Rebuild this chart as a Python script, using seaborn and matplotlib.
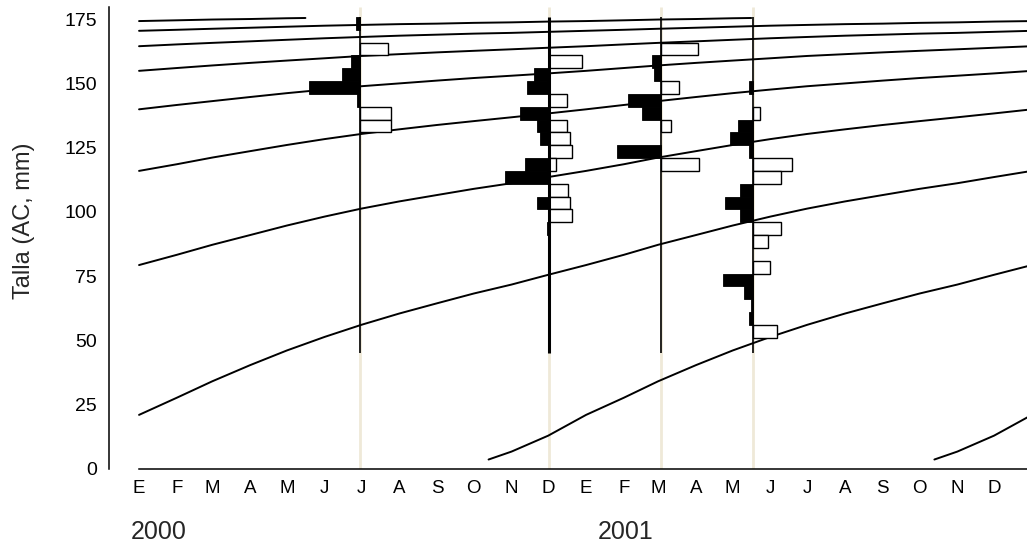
import numpy as np
import pandas as pd
import matplotlib
matplotlib.use("Agg")
import matplotlib.pyplot as plt
import seaborn as sns

# ---------------------------------------------------------------
# Growth trajectory (length at age), age in months from 1 January
# of the cohort's first full year
# ---------------------------------------------------------------
edad_reclut_meses = [-2.6, -2.0, -1.0]
talla_reclut_mm = [3.5, 6.6, 12.8]

# monthly lengths (Jan..Dec) for each age-year 0..6
talla_edad0 = [20.9, 27.6, 34.0, 40.3, 46.0, 51.3, 56.0, 60.4, 64.4, 68.2, 71.7, 75.5]
talla_edad1 = [79.3, 83.3, 87.2, 91.0, 94.7, 98.2, 101.3, 104.1, 106.6, 109.0, 111.2, 113.6]
talla_edad2 = [116.0, 118.6, 121.2, 123.7, 126.1, 128.4, 130.4, 132.2, 133.9, 135.4, 136.9, 138.4]
talla_edad3 = [140.0, 141.7, 143.2, 144.8, 146.3, 147.7, 149.0, 150.1, 151.2, 152.2, 153.1, 154.0]
talla_edad4 = [155.0, 156.1, 157.1, 158.1, 159.0, 159.9, 160.8, 161.5, 162.2, 162.8, 163.4, 164.0]
talla_edad5 = [164.6, 165.3, 165.9, 166.5, 167.1, 167.7, 168.2, 168.7, 169.1, 169.5, 169.8, 170.2]
talla_edad6 = [170.6, 171.0, 171.4, 171.8, 172.2, 172.6, 172.9, 173.2, 173.4, 173.7, 173.9, 174.2]
# last age-year, drawn until mid-May
talla_edad7 = [174.4, 174.7, 175.0, 175.2, 175.5, 175.6]
edad7_meses = [84, 85, 86, 87, 88, 88.5]

# cohorts (year in which each one starts age-year 0)
cohortes = [1993, 1994, 1995, 1996, 1997, 1998, 1999, 2000, 2001, 2002]

# ---------------------------------------------------------------
# Length-frequency samples: class mid-points (mm) and frequencies
# ---------------------------------------------------------------
fechas_muestreo = ["2000-06-30", "2000-12-02", "2001-03-03", "2001-05-18"]

m1_clase_negra = [173.5, 158.5, 153.5, 148.5, 143.5]
m1_frec_negra = [1.5, 3.1, 5.9, 17.0, 0.9]
m1_clase_blanca = [163.5, 138.5, 133.5]
m1_frec_blanca = [9.3, 10.2, 10.2]

m2_clase_negra = [153.5, 148.5, 138.5, 133.5, 128.5, 118.5, 113.5, 103.5, 93.5]
m2_frec_negra = [5.0, 7.4, 9.7, 4.2, 3.2, 8.3, 14.8, 4.1, 0.8]
m2_clase_blanca = [158.5, 143.5, 133.5, 128.5, 123.5, 118.5, 108.5, 103.5, 98.5]
m2_frec_blanca = [11.0, 6.0, 5.7, 7.0, 7.6, 2.3, 6.3, 6.7, 7.6]

m3_clase_negra = [158.5, 153.5, 143.5, 138.5, 123.5]
m3_frec_negra = [2.9, 2.3, 10.7, 6.2, 14.6]
m3_clase_blanca = [163.5, 148.5, 133.5, 118.5]
m3_frec_blanca = [12.4, 6.3, 3.6, 12.8]

m4_clase_negra = [148.5, 133.5, 128.5, 123.5, 108.5, 103.5, 98.5, 73.5, 68.5, 63.5, 58.5]
m4_frec_negra = [1.4, 5.1, 7.9, 1.4, 4.6, 9.6, 4.6, 10.1, 3.3, 0.9, 1.4]
m4_clase_blanca = [138.5, 118.5, 113.5, 93.5, 88.5, 78.5, 53.5]
m4_frec_blanca = [2.1, 13.0, 9.1, 9.1, 4.7, 5.6, 8.0]

muestras = [
    (m1_clase_negra, m1_frec_negra, m1_clase_blanca, m1_frec_blanca),
    (m2_clase_negra, m2_frec_negra, m2_clase_blanca, m2_frec_blanca),
    (m3_clase_negra, m3_frec_negra, m3_clase_blanca, m3_frec_blanca),
    (m4_clase_negra, m4_frec_negra, m4_clase_blanca, m4_frec_blanca),
]

meses_etiquetas = ["E", "F", "M", "A", "M", "J", "J", "A", "S", "O", "N", "D"] * 2
anios_etiquetas = ["2000", "2001"]

# ---------------------------------------------------------------
T0 = pd.Timestamp("2000-01-01")
X_MIN, X_MAX = -24.6, 727.0
ANCHO_CLASE = 5.0
DIAS_POR_UNIDAD = 2.456
TRANSECTA = (45.0, 176.0)


def dias_desde_t0(fecha):
    return (pd.Timestamp(fecha) - T0) / pd.Timedelta(days=1)


def fecha_edad(anio, meses):
    entero = int(np.floor(meses))
    frac = meses - entero
    return (pd.Timestamp(year=anio, month=1, day=1)
            + pd.DateOffset(months=entero)
            + pd.Timedelta(days=frac * 30.4375))


edad_meses = list(edad_reclut_meses)
talla_mm = list(talla_reclut_mm)
for k, fila in enumerate([talla_edad0, talla_edad1, talla_edad2, talla_edad3,
                          talla_edad4, talla_edad5, talla_edad6]):
    edad_meses += [12 * k + m for m in range(12)]
    talla_mm += fila
edad_meses += edad7_meses
talla_mm += talla_edad7

filas = []
for c in cohortes:
    for e, t in zip(edad_meses, talla_mm):
        x = dias_desde_t0(fecha_edad(c, e))
        if x >= -0.01:
            filas.append({"cohorte": c, "dia": x, "talla": t})
curvas = pd.DataFrame(filas)

# ---------------------------------------------------------------
sns.set_theme(style="white")
plt.rcParams["font.family"] = ["Liberation Sans", "DejaVu Sans"]

fig = plt.figure(figsize=(10.27, 5.51), dpi=100)
ax = fig.add_axes([109 / 1027, 82.5 / 551, 918 / 1027, 461.8 / 551])

dias_muestra = [dias_desde_t0(f) for f in fechas_muestreo]

# faint full-height guides at sampling dates
ax.vlines(dias_muestra, 0, 180, color="#efe9d8", lw=2.0, zorder=0)

sns.lineplot(data=curvas, x="dia", y="talla", units="cohorte", estimator=None,
             color="black", lw=1.4, ax=ax, legend=False, zorder=2)

for i, (dia, (cn, fn, cb, fb)) in enumerate(zip(dias_muestra, muestras)):
    ax.vlines(dia, *TRANSECTA, color="black", lw=2.2 if i == 1 else 1.2, zorder=4)
    ax.barh(cn, -np.array(fn) * DIAS_POR_UNIDAD, left=dia, height=ANCHO_CLASE,
            color="black", edgecolor="black", lw=0.6, zorder=3)
    ax.barh(cb, np.array(fb) * DIAS_POR_UNIDAD, left=dia, height=ANCHO_CLASE,
            color="white", edgecolor="black", lw=1.0, zorder=3)

ax.set_xlim(X_MIN, X_MAX)
ax.set_ylim(0, 180)

inicio_mes = pd.date_range("2000-01-01", "2001-12-01", freq="MS")
ax.set_xticks([dias_desde_t0(f) for f in inicio_mes])
ax.set_xticklabels(meses_etiquetas)
ax.set_yticks([0, 25, 50, 75, 100, 125, 150, 175])

for s in ["top", "right"]:
    ax.spines[s].set_visible(False)
for s in ["left", "bottom"]:
    ax.spines[s].set_color("black")
    ax.spines[s].set_linewidth(1.1)
ax.spines["bottom"].set_bounds(0, X_MAX)

ax.tick_params(axis="y", direction="in", length=6, width=1.1, color="black",
               pad=8.5, labelsize=14, labelcolor="black")
ax.tick_params(axis="x", direction="inout", length=7, width=1.1, color="black",
               pad=4.5, labelsize=13.5, labelcolor="black")
ax.set_xlabel("")
ax.set_ylabel("")
ax.grid(False)

fig.text(23.7 / 1027, 1 - 220.5 / 551, "Talla (AC, mm)", rotation=90,
         ha="center", va="center", fontsize=17)
fig.text(159 / 1027, 1 - 532 / 551, anios_etiquetas[0], ha="center",
         va="center", fontsize=18)
fig.text(626 / 1027, 1 - 532 / 551, anios_etiquetas[1], ha="center",
         va="center", fontsize=18)

fig.savefig("out.png", dpi=100, facecolor="white")
